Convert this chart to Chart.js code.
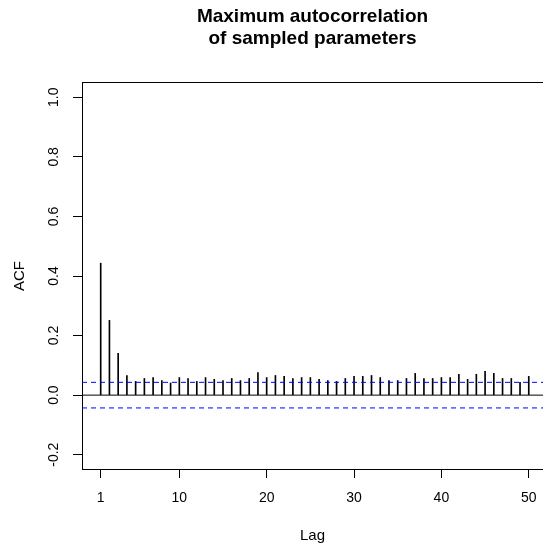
<!DOCTYPE html>
<html><head><meta charset="utf-8">
<script src="https://cdn.jsdelivr.net/npm/chart.js@4/dist/chart.umd.min.js"></script>
<style>html,body{margin:0;padding:0;background:#fff;overflow:hidden}</style>
</head><body>
<canvas id="c" width="543" height="550"></canvas>
<script>
const lags = [1,2,3,4,5,6,7,8,9,10,11,12,13,14,15,16,17,18,19,20,21,22,23,24,25,26,27,28,29,30,31,32,33,34,35,36,37,38,39,40,41,42,43,44,45,46,47,48,49,50];
const acfValues = [0.443,0.251,0.140,0.066,0.046,0.056,0.059,0.049,0.041,0.059,
  0.056,0.046,0.059,0.053,0.049,0.056,0.049,0.056,0.076,0.059,
  0.066,0.063,0.056,0.059,0.059,0.053,0.049,0.046,0.056,0.063,
  0.063,0.066,0.059,0.049,0.049,0.056,0.073,0.056,0.056,0.059,
  0.059,0.070,0.053,0.070,0.080,0.073,0.056,0.056,0.043,0.063];
const ciBound = 0.043;
const xTickValues = [1,10,20,30,40,50];
const yTickValues = [-0.2,0,0.2,0.4,0.6,0.8,1.0];
const yTickLabels = ['-0.2','0.0','0.2','0.4','0.6','0.8','1.0'];
const titleLines = ['Maximum autocorrelation','of sampled parameters'];
const xTitle = 'Lag';
const yTitle = 'ACF';
const xRange = [-1.14, 51.63];
const yRange = [-0.248, 1.048];

const FONT = '"Liberation Sans", Arial, Helvetica, sans-serif';

const framePlugin = {
  id: 'framePlugin',
  afterDraw(chart) {
    const {ctx, chartArea: a, scales: {y}} = chart;
    ctx.save();
    ctx.strokeStyle = '#000';
    ctx.lineWidth = 1;
    ctx.beginPath();
    ctx.moveTo(a.left, a.top - 0.5);
    ctx.lineTo(a.right, a.top - 0.5);
    ctx.stroke();
    ctx.font = '14px ' + FONT;
    ctx.fillStyle = '#000';
    ctx.textAlign = 'center';
    ctx.textBaseline = 'middle';
    y.ticks.forEach(t => {
      const idx = yTickValues.findIndex(v => Math.abs(v - t.value) < 1e-9);
      const label = idx >= 0 ? yTickLabels[idx] : t.value.toFixed(1);
      const py = y.getPixelForValue(t.value);
      ctx.save();
      ctx.translate(53.7, py);
      ctx.rotate(-Math.PI / 2);
      ctx.fillText(label, 0, 0);
      ctx.restore();
    });
    ctx.restore();
  }
};

const hline = (v, color, dash) => ({
  type: 'line',
  data: [{x: xRange[0], y: v}, {x: xRange[1], y: v}],
  borderColor: color,
  borderWidth: 1,
  borderDash: dash,
  pointRadius: 0,
  fill: false,
  order: 0
});

new Chart(document.getElementById('c'), {
  type: 'bar',
  data: {
    datasets: [
      {
        type: 'bar',
        data: lags.map((l, i) => ({x: l, y: acfValues[i]})),
        backgroundColor: '#000',
        borderWidth: 0,
        barThickness: 1,
        order: 1
      },
      hline(0, '#000', []),
      hline(ciBound, '#0000ff', [5, 4]),
      hline(-ciBound, '#0000ff', [5, 4])
    ]
  },
  options: {
    responsive: false,
    animation: false,
    events: [],
    layout: {padding: 0},
    plugins: {
      legend: {display: false},
      tooltip: {enabled: false},
      title: {
        display: true,
        text: titleLines,
        fullSize: false,
        color: '#000',
        font: {family: FONT, size: 19, weight: 'bold', lineHeight: 22 / 19},
        padding: {top: 5.7, bottom: 33.3}
      }
    },
    scales: {
      x: {
        type: 'linear',
        min: xRange[0],
        max: xRange[1],
        offset: false,
        afterBuildTicks: s => { s.ticks = xTickValues.map(v => ({value: v})); },
        afterFit: s => { s.height = 81; s.paddingLeft = 0; s.paddingRight = 0; },
        grid: {display: true, drawOnChartArea: false, drawTicks: true, tickLength: 9, color: '#000', offset: false},
        border: {display: true, color: '#000', width: 1},
        ticks: {autoSkip: false, maxRotation: 0, minRotation: 0, padding: 11.6, color: '#000',
                font: {family: FONT, size: 14}, callback: v => String(v)},
        title: {display: true, text: xTitle, color: '#000', font: {family: FONT, size: 15},
                padding: {top: 0, bottom: 5.2}}
      },
      y: {
        type: 'linear',
        min: yRange[0],
        max: yRange[1],
        afterBuildTicks: s => { s.ticks = yTickValues.map(v => ({value: v})); },
        afterFit: s => { s.width = 82; s.paddingTop = 0; s.paddingBottom = 0; },
        grid: {display: true, drawOnChartArea: false, drawTicks: true, tickLength: 9, color: '#000'},
        border: {display: true, color: '#000', width: 1},
        ticks: {display: false},
        title: {display: true, text: yTitle, color: '#000', font: {family: FONT, size: 15},
                padding: {top: 10.8, bottom: 0}}
      }
    }
  },
  plugins: [framePlugin]
});
</script>
</body></html>
